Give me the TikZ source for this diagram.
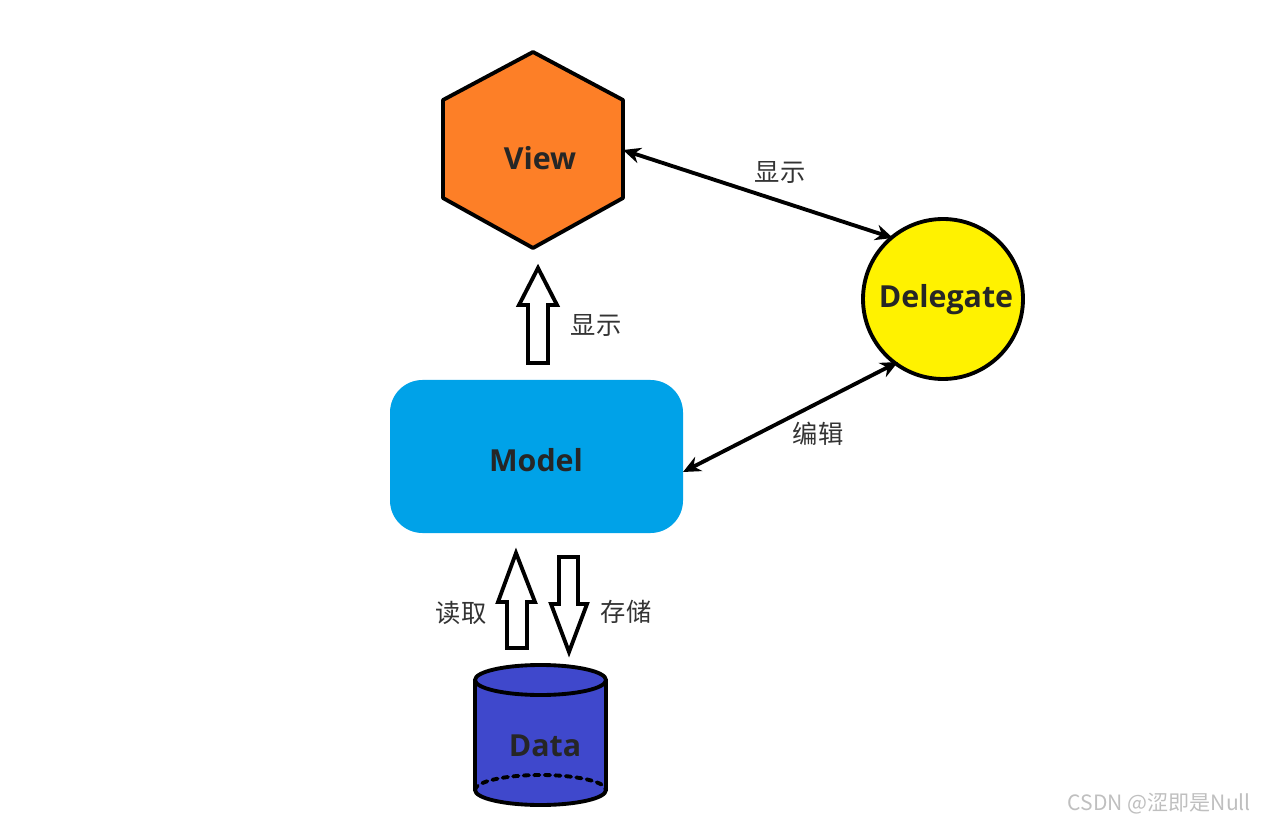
\documentclass[tikz,border=0pt]{standalone}
\usepackage{fontspec}
\setmainfont{Open Sans}
\newfontfamily\cjk{Noto Sans CJK SC}
\usetikzlibrary{arrows.meta}

\definecolor{viewor}{RGB}{253,127,39}
\definecolor{delyel}{RGB}{255,242,0}
\definecolor{modcyan}{RGB}{0,162,232}
\definecolor{datablue}{RGB}{63,72,204}

\begin{document}
\begin{tikzpicture}[
  x=0.02cm, y=-0.02cm,
  line cap=round,
  line join=round,
  >={Stealth[length=10pt,width=9pt]},
  shapeline/.style={line width=2.2pt},
  hollow/.style={draw, fill=white, line width=2.2pt, line join=miter},
  lbl/.style={font=\bfseries\LARGE, text=black!85},
  cn/.style={font=\cjk\Large, text=black!80}
]
\useasboundingbox (0,0) rectangle (1261,827);

% View hexagon
\fill [viewor] (533,52) -- (623,100) -- (623,198) -- (533,248) -- (443,198) -- (443,100) -- cycle;
\draw [shapeline] (533,52) -- (623,100) -- (623,198) -- (533,248) -- (443,198) -- (443,100) -- cycle;
\node [lbl] (view) at (540,158) {View};
\coordinate (viewR) at (623,150);

% Delegate circle
\draw [shapeline, fill=delyel] (943,299) circle[radius=80];
\node [lbl] (deleg) at (946,300) {Delegate};
\coordinate (delegA) at (893,238);
\coordinate (delegB) at (898,362);

% Model rounded box
\fill [modcyan, rounded corners=0.65cm] (390,380) rectangle (683,533);
\node [lbl] (model) at (536,460) {Model};
\coordinate (modelR) at (683,472);

% Data cylinder
\draw [shapeline, fill=datablue] (475,680) -- (475,790) arc[start angle=180, end angle=0, x radius=65.5, y radius=15] -- (606,680);
\draw [shapeline, fill=datablue] (540.5,680) ellipse[x radius=65.5, y radius=15];
\draw [shapeline, dashed] (475,790) arc[start angle=180, end angle=360, x radius=65.5, y radius=15];
\node [lbl] (data) at (545,746) {Data};

% connectors
\draw [<->, line width=2.2pt] (viewR) -- (delegA);
\draw [<->, line width=2.2pt] (modelR) -- (delegB);
\node [cn] (show1) at (780,172) {显示};
\node [cn] (edit) at (818,434) {编辑};

% hollow block arrows
\draw [hollow] (528,363) -- (528,305) -- (519,305) -- (538,268) -- (557,305) -- (548,305) -- (548,363) -- cycle;
\node [cn] (show2) at (596,325) {显示};
\draw [hollow] (507,648) -- (507,602) -- (498,602) -- (516,553) -- (535,602) -- (527,602) -- (527,648) -- cycle;
\node [cn] (read) at (461,613) {读取};
\draw [hollow] (559,557) -- (578,557) -- (578,604) -- (587,604) -- (569,652) -- (551,604) -- (559,604) -- cycle;
\node [cn] (store) at (626,612) {存储};

\node [font=\cjk\large, text=black!25, anchor=east] (mark) at (1257,804) {CSDN @涩即是Null};
\end{tikzpicture}
\end{document}
